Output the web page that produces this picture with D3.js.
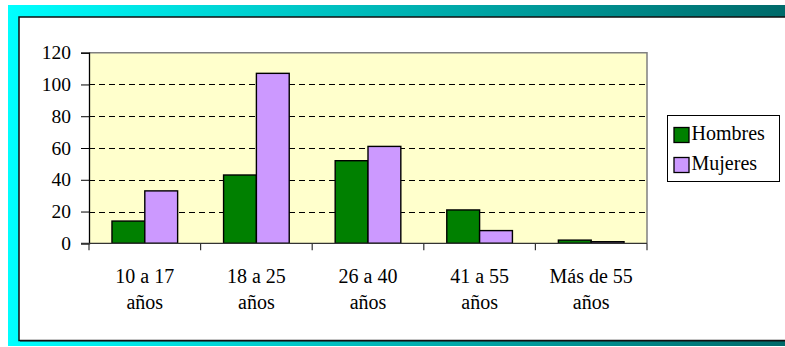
<!DOCTYPE html>
<html>
<head>
<meta charset="utf-8">
<script src="https://cdn.jsdelivr.net/npm/d3@7"></script>
<style>
  html, body { margin: 0; padding: 0; background: #ffffff; }
  svg { display: block; }
</style>
</head>
<body>
<svg id="chart" width="785" height="347"></svg>
<script>
// Age groups and the two series (count of people per group)
const categories = ["10 a 17 años", "18 a 25 años", "26 a 40 años", "41 a 55 años", "Más de 55 años"];
const tickLabels = [["10 a 17", "años"], ["18 a 25", "años"], ["26 a 40", "años"], ["41 a 55", "años"], ["Más de 55", "años"]];
const seriesNames = ["Hombres", "Mujeres"];
const hombres = [14, 43, 52, 21, 2];
const mujeres = [33, 107, 61, 8, 1];
const yTicks = [0, 20, 40, 60, 80, 100, 120];

const colors = { Hombres: "#008000", Mujeres: "#CC99FF" };
const FONT = "'Liberation Serif', 'Times New Roman', Times, serif";

const svg = d3.select("#chart");
const W = 785;

// Framed slide background: gradient band with a white panel on top
const defs = svg.append("defs");
const grad = defs.append("linearGradient").attr("id", "band")
  .attr("x1", "0%").attr("x2", "100%").attr("y1", "0%").attr("y2", "0%");
grad.append("stop").attr("offset", "0%").attr("stop-color", "#00FFFF");
grad.append("stop").attr("offset", "100%").attr("stop-color", "#006A6A");

svg.append("rect").attr("x", 8).attr("y", 5).attr("width", W - 8).attr("height", 341)
  .attr("fill", "url(#band)");
svg.append("rect").attr("x", 20).attr("y", 18).attr("width", W + 10).attr("height", 323.5)
  .attr("fill", "#003a3a");
svg.append("rect").attr("x", 19).attr("y", 17).attr("width", W + 10).attr("height", 323.5)
  .attr("fill", "#ffffff").attr("stroke", "#111111").attr("stroke-width", 1.5);

// Plot area
const plot = { left: 89, top: 52.7, right: 647, bottom: 243.3 };

const x0 = d3.scaleBand().domain(categories).range([plot.left, plot.right]).padding(0);
const barW = x0.bandwidth() / 3.4;
const x1 = d3.scaleBand().domain(seriesNames)
  .range([0.7 * barW, x0.bandwidth() - 0.7 * barW]).padding(0);
const y = d3.scaleLinear().domain([0, 120]).range([plot.bottom, plot.top]);

svg.append("rect")
  .attr("x", plot.left).attr("y", plot.top)
  .attr("width", plot.right - plot.left).attr("height", plot.bottom - plot.top)
  .attr("fill", "#FFFFCC");

// Dashed gridlines
svg.append("g").selectAll("line")
  .data(yTicks.filter(v => v > 0 && v < 120))
  .join("line")
  .attr("x1", plot.left).attr("x2", plot.right)
  .attr("y1", d => Math.round(y(d)) + 0.5).attr("y2", d => Math.round(y(d)) + 0.5)
  .attr("stroke", "#000").attr("stroke-width", 1).attr("stroke-dasharray", "6,4");

// Plot area border (top and right, grey)
svg.append("path")
  .attr("d", `M${plot.left},${plot.top}H${plot.right}V${plot.bottom}`)
  .attr("fill", "none").attr("stroke", "#808080").attr("stroke-width", 1.5);

// Bars
const rows = categories.map((c, i) => ({ cat: c, values: [
  { key: "Hombres", value: hombres[i] },
  { key: "Mujeres", value: mujeres[i] }
]}));

svg.append("g").selectAll("g")
  .data(rows)
  .join("g")
  .attr("transform", d => `translate(${x0(d.cat)},0)`)
  .selectAll("rect")
  .data(d => d.values)
  .join("rect")
  .attr("x", d => x1(d.key))
  .attr("y", d => y(d.value))
  .attr("width", x1.bandwidth())
  .attr("height", d => y(0) - y(d.value))
  .attr("fill", d => colors[d.key])
  .attr("stroke", "#000").attr("stroke-width", 1.4);

// Y axis
const yAxis = svg.append("g").attr("transform", `translate(${plot.left},0)`)
  .call(d3.axisLeft(y).tickValues(yTicks).tickSize(8).tickFormat(""));
yAxis.select(".domain").attr("stroke", "#000").attr("stroke-width", 1.3);
yAxis.selectAll(".tick line").attr("stroke", "#000");

svg.append("g").selectAll("text")
  .data(yTicks)
  .join("text")
  .attr("x", 71).attr("y", d => y(d) + 6.5)
  .attr("text-anchor", "end")
  .attr("font-family", FONT)
  .attr("font-size", 19.5)
  .text(d => d);

// X axis with ticks at category boundaries
svg.append("line")
  .attr("x1", plot.left - 8).attr("x2", plot.right)
  .attr("y1", plot.bottom).attr("y2", plot.bottom)
  .attr("stroke", "#333").attr("stroke-width", 1.3);
const bounds = categories.map(c => x0(c)).concat([plot.right]);
svg.append("g").selectAll("line")
  .data(bounds)
  .join("line")
  .attr("x1", d => d).attr("x2", d => d)
  .attr("y1", plot.bottom).attr("y2", plot.bottom + 7)
  .attr("stroke", "#333").attr("stroke-width", 1.2);

const xl = svg.append("g").selectAll("g")
  .data(categories)
  .join("g")
  .attr("transform", d => `translate(${x0(d) + x0.bandwidth() / 2},0)`);
xl.selectAll("text")
  .data((d, i) => tickLabels[i].map((t, j) => ({ t, j })))
  .join("text")
  .attr("x", 0).attr("y", d => 283.3 + d.j * 26)
  .attr("text-anchor", "middle")
  .attr("font-family", FONT)
  .attr("font-size", 20)
  .text(d => d.t);

// Legend
const lg = svg.append("g");
lg.append("rect").attr("x", 667.5).attr("y", 115.5).attr("width", 112).attr("height", 66)
  .attr("fill", "#fff").attr("stroke", "#000").attr("stroke-width", 1);
const items = lg.selectAll("g.item")
  .data(seriesNames)
  .join("g").attr("class", "item")
  .attr("transform", (d, i) => `translate(674,${127.5 + i * 30})`);
items.append("rect")
  .attr("width", 15).attr("height", 15)
  .attr("fill", d => colors[d]).attr("stroke", "#000").attr("stroke-width", 1.3);
items.append("text")
  .attr("x", 17.5).attr("y", 12)
  .attr("font-family", FONT)
  .attr("font-size", 20)
  .text(d => d);
</script>
</body>
</html>
